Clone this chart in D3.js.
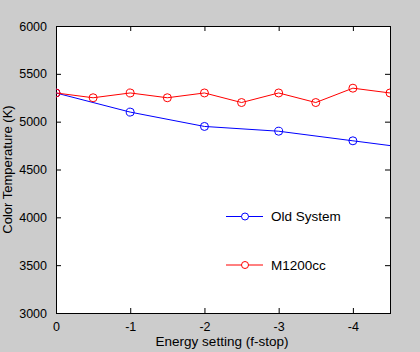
<!DOCTYPE html>
<html>
<head>
<meta charset="utf-8">
<script src="https://cdn.jsdelivr.net/npm/d3@7"></script>
<style>
  html, body { margin: 0; padding: 0; background: #cccccc; }
  svg { display: block; font-family: "Liberation Sans", Arial, sans-serif; }
</style>
</head>
<body>
<div id="container"></div>
<script>
// data
var fstops = [0, -0.5, -1, -1.5, -2, -2.5, -3, -3.5, -4, -4.5];
var m1200 = [5300, 5250, 5300, 5250, 5300, 5200, 5300, 5200, 5350, 5300];
var oldStops = [0, -1, -2, -3, -4, -5];
var oldSystem = [5300, 5100, 4950, 4900, 4800, 4700];
var xTicks = [0, -1, -2, -3, -4];
var yTicks = [3000, 3500, 4000, 4500, 5000, 5500, 6000];

var W = 420, H = 352;
var margin = {top: 26, right: 30, bottom: 39, left: 56};
var width = W - margin.left - margin.right,
    height = H - margin.top - margin.bottom;

var svg = d3.select("#container").append("svg")
  .attr("width", W).attr("height", H);

var g = svg.append("g")
  .attr("transform", "translate(" + margin.left + "," + margin.top + ")");

var x = d3.scaleLinear().domain([0, -4.5]).range([0, width]);
var y = d3.scaleLinear().domain([3000, 6000]).range([height, 0]);

g.append("rect").attr("width", width).attr("height", height).attr("fill", "#fff");

g.append("clipPath").attr("id", "clip")
  .append("rect").attr("width", width).attr("height", height);

// axes (matlab style, ticks inside on all four sides)
function styleAxis(sel) {
  sel.select(".domain").remove();
  sel.selectAll("line").attr("stroke", "#000");
  sel.selectAll("text").attr("fill", "#000").style("font-size", "12.5px");
}
// plain hyphen like the original, not the unicode minus
var fmt = function(d) { return String(d); };

g.append("g").attr("transform", "translate(0," + height + ")")
  .call(d3.axisBottom(x).tickValues(xTicks).tickFormat(fmt).tickSizeInner(-5).tickSizeOuter(0).tickPadding(9))
  .call(styleAxis);
g.append("g")
  .call(d3.axisTop(x).tickValues(xTicks).tickFormat("").tickSizeInner(-5).tickSizeOuter(0))
  .call(styleAxis);
g.append("g")
  .call(d3.axisLeft(y).tickValues(yTicks).tickFormat(fmt).tickSizeInner(-5).tickSizeOuter(0).tickPadding(9))
  .call(styleAxis);
g.append("g").attr("transform", "translate(" + width + ",0)")
  .call(d3.axisRight(y).tickValues(yTicks).tickFormat("").tickSizeInner(-5).tickSizeOuter(0))
  .call(styleAxis);

g.append("rect").attr("width", width).attr("height", height)
  .attr("fill", "none").attr("stroke", "#000").attr("shape-rendering", "crispEdges");

var line = d3.line().x(function(d) { return x(d[0]); }).y(function(d) { return y(d[1]); });

var series = [
  {name: "Old System", color: "#0000ff", pts: d3.zip(oldStops, oldSystem)},
  {name: "M1200cc", color: "#ff0000", pts: d3.zip(fstops, m1200)}
];

var plot = g.append("g").attr("clip-path", "url(#clip)");
series.forEach(function(s) {
  plot.append("path").datum(s.pts)
    .attr("d", line).attr("fill", "none").attr("stroke", s.color).attr("stroke-width", 1);
  plot.selectAll(null).data(s.pts).enter().append("circle")
    .attr("cx", function(d) { return x(d[0]); })
    .attr("cy", function(d) { return y(d[1]); })
    .attr("r", 4).attr("fill", "none").attr("stroke", s.color);
});

// legend
var legend = g.selectAll(".legend").data(series).enter().append("g")
  .attr("class", "legend")
  .attr("transform", function(d, i) { return "translate(170," + (190.5 + i * 48.5) + ")"; });
legend.append("line").attr("x1", 0).attr("x2", 37)
  .attr("stroke", function(d) { return d.color; });
legend.append("circle").attr("cx", 19).attr("r", 3.5)
  .attr("fill", "#fff").attr("stroke", function(d) { return d.color; });
legend.append("text").attr("x", 45).attr("dy", "0.35em")
  .style("font-size", "13.5px").text(function(d) { return d.name; });

// axis labels
svg.append("text")
  .attr("x", margin.left + width / 2 - 1).attr("y", 346)
  .attr("text-anchor", "middle").style("font-size", "13.5px")
  .text("Energy setting (f-stop)");
svg.append("text")
  .attr("transform", "translate(12," + (margin.top + height / 2) + ") rotate(-90)")
  .attr("text-anchor", "middle").style("font-size", "13px")
  .text("Color Temperature (K)");
</script>
</body>
</html>
